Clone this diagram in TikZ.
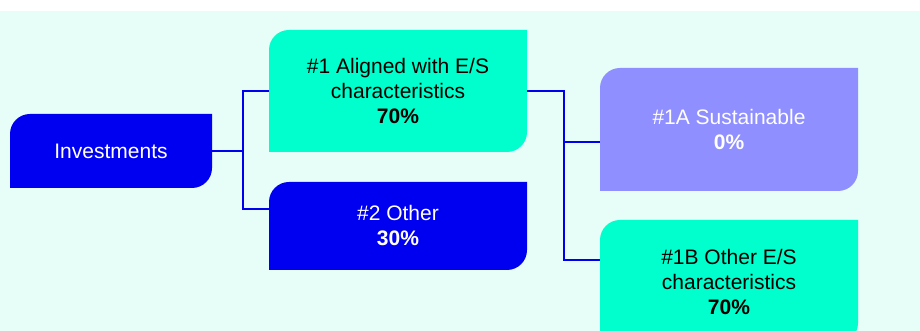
\documentclass[tikz,border=0pt]{standalone}
\usepackage{fontspec}
\setmainfont{Liberation Sans}
\usepackage{tikz}
\usetikzlibrary{backgrounds,calc}

\definecolor{esgbg}{RGB}{230,253,248}
\definecolor{esgblue}{RGB}{0,0,240}
\definecolor{esgteal}{RGB}{0,255,204}
\definecolor{esgpurple}{RGB}{143,143,255}

\begin{document}
\begin{tikzpicture}[x=1pt, y=1pt,
    box/.style={rectangle, outer sep=0pt, inner sep=0pt, align=center,
      font=\fontsize{21}{25}\selectfont},
    link/.style={draw=esgblue, line width=2.4pt}]
  \useasboundingbox (0,0) rectangle (920,331);

  % Boxes
  \node[box, text=white, minimum width=202pt, minimum height=74pt] (inv) at (111,180) {Investments};
  \node[box, minimum width=258pt, minimum height=122pt] (al) at (398,240)
    {\#1 Aligned with E/S\\characteristics\\\textbf{70\%}};
  \node[box, text=white, minimum width=258pt, minimum height=88pt] (ot) at (398,105)
    {\#2 Other\\\textbf{30\%}};
  \node[box, text=white, minimum width=258pt, minimum height=123pt] (su) at (729,201.5)
    {\#1A Sustainable\\\textbf{0\%}};
  \node[box, minimum width=258pt, minimum height=123pt] (es) at (729,49.5)
    {\#1B Other E/S\\characteristics\\\textbf{70\%}};

  % Connectors
  \draw[link] (inv.east) -- ++(31,0) |- (al.west);
  \draw[link] (inv.east) -- ++(31,0) |- ([yshift=17pt]ot.west);
  \draw[link] (al.east) -- ++(37,0) |- ([yshift=-12.5pt]su.west);
  \draw[link] (al.east) -- ++(37,0) |- ([yshift=21.5pt]es.west);

  % Fills
  \begin{scope}[on background layer]
    \fill[esgbg] (0,0) rectangle (920,320);
    \foreach \n/\c in {inv/esgblue, al/esgteal, ot/esgblue, su/esgpurple, es/esgteal}
      \fill[\c] (\n.south west) -- ([yshift=-20pt]\n.north west)
        arc[start angle=180, end angle=90, radius=20pt] -- (\n.north east)
        -- ([yshift=20pt]\n.south east)
        arc[start angle=0, end angle=-90, radius=20pt] -- cycle;
  \end{scope}
\end{tikzpicture}
\end{document}
